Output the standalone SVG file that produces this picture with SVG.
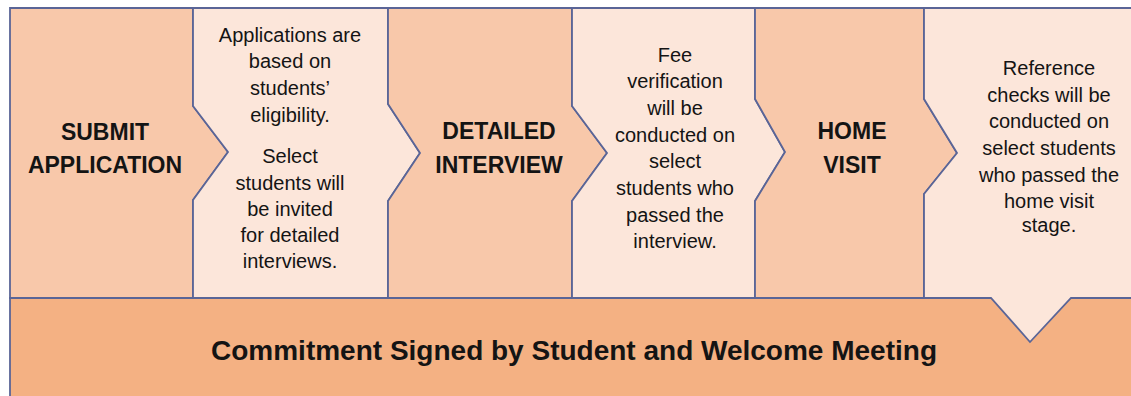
<svg xmlns="http://www.w3.org/2000/svg" width="1131" height="396" viewBox="0 0 1131 396">
<style>
.dark{fill:#F8C8AA;stroke:#5A6597;stroke-width:1.8;stroke-linejoin:miter}
.light{fill:#FCE6DA;stroke:#5A6597;stroke-width:1.8;stroke-linejoin:miter}
.base{fill:#F4B183;stroke:#5A6597;stroke-width:1.8}
text{font-family:"Liberation Sans",Arial,sans-serif;fill:#141414;text-anchor:middle}
.t{font-size:23px;font-weight:bold}
.b{font-size:20px}
.f{font-size:28px;font-weight:bold}
</style>
<rect width="1131" height="396" fill="#ffffff"/>
<g id="commitment">
<polygon class="base" points="10,298 1140,298 1140,400 10,400"/>
<text class="f" x="574" y="360">Commitment Signed by Student and Welcome Meeting</text>
</g>
<g id="submit">
<polygon class="dark" points="10,8 193,8 193,106 228,152 193,200 193,298 10,298"/>
<text class="t" x="105" y="140">SUBMIT</text>
<text class="t" x="105" y="173">APPLICATION</text>
</g>
<g id="note1">
<polygon class="light" points="193,8 388,8 388,104 420,153 388,201 388,298 193,298 193,200 228,152 193,106"/>
<text class="b" x="290" y="42">Applications are</text>
<text class="b" x="290" y="68">based on</text>
<text class="b" x="290" y="95">students’</text>
<text class="b" x="290" y="122">eligibility.</text>
<text class="b" x="290" y="163">Select</text>
<text class="b" x="290" y="190">students will</text>
<text class="b" x="290" y="216">be invited</text>
<text class="b" x="290" y="242">for detailed</text>
<text class="b" x="290" y="268">interviews.</text>
</g>
<g id="interview">
<polygon class="dark" points="388,8 572,8 572,106 607,153 572,201 572,298 388,298 388,201 420,153 388,104"/>
<text class="t" x="499" y="139">DETAILED</text>
<text class="t" x="499" y="173">INTERVIEW</text>
</g>
<g id="note2">
<polygon class="light" points="572,8 755,8 755,99 785,152 755,201 755,298 572,298 572,201 607,153 572,106"/>
<text class="b" x="675" y="62">Fee</text>
<text class="b" x="675" y="88">verification</text>
<text class="b" x="675" y="115">will be</text>
<text class="b" x="675" y="142">conducted on</text>
<text class="b" x="675" y="168">select</text>
<text class="b" x="675" y="195">students who</text>
<text class="b" x="675" y="222">passed the</text>
<text class="b" x="675" y="248">interview.</text>
</g>
<g id="homevisit">
<polygon class="dark" points="755,8 924,8 924,99 957,153 924,194 924,298 755,298 755,201 785,152 755,99"/>
<text class="t" x="852" y="139">HOME</text>
<text class="t" x="852" y="173">VISIT</text>
</g>
<g id="note3">
<polygon class="light" points="924,8 1140,8 1140,298 1071,298 1030,342 991,298 924,298 924,194 957,153 924,99"/>
<text class="b" x="1049" y="75">Reference</text>
<text class="b" x="1049" y="102">checks will be</text>
<text class="b" x="1049" y="128">conducted on</text>
<text class="b" x="1049" y="155">select students</text>
<text class="b" x="1049" y="182">who passed the</text>
<text class="b" x="1049" y="208">home visit</text>
<text class="b" x="1049" y="232">stage.</text>
</g>
</svg>
